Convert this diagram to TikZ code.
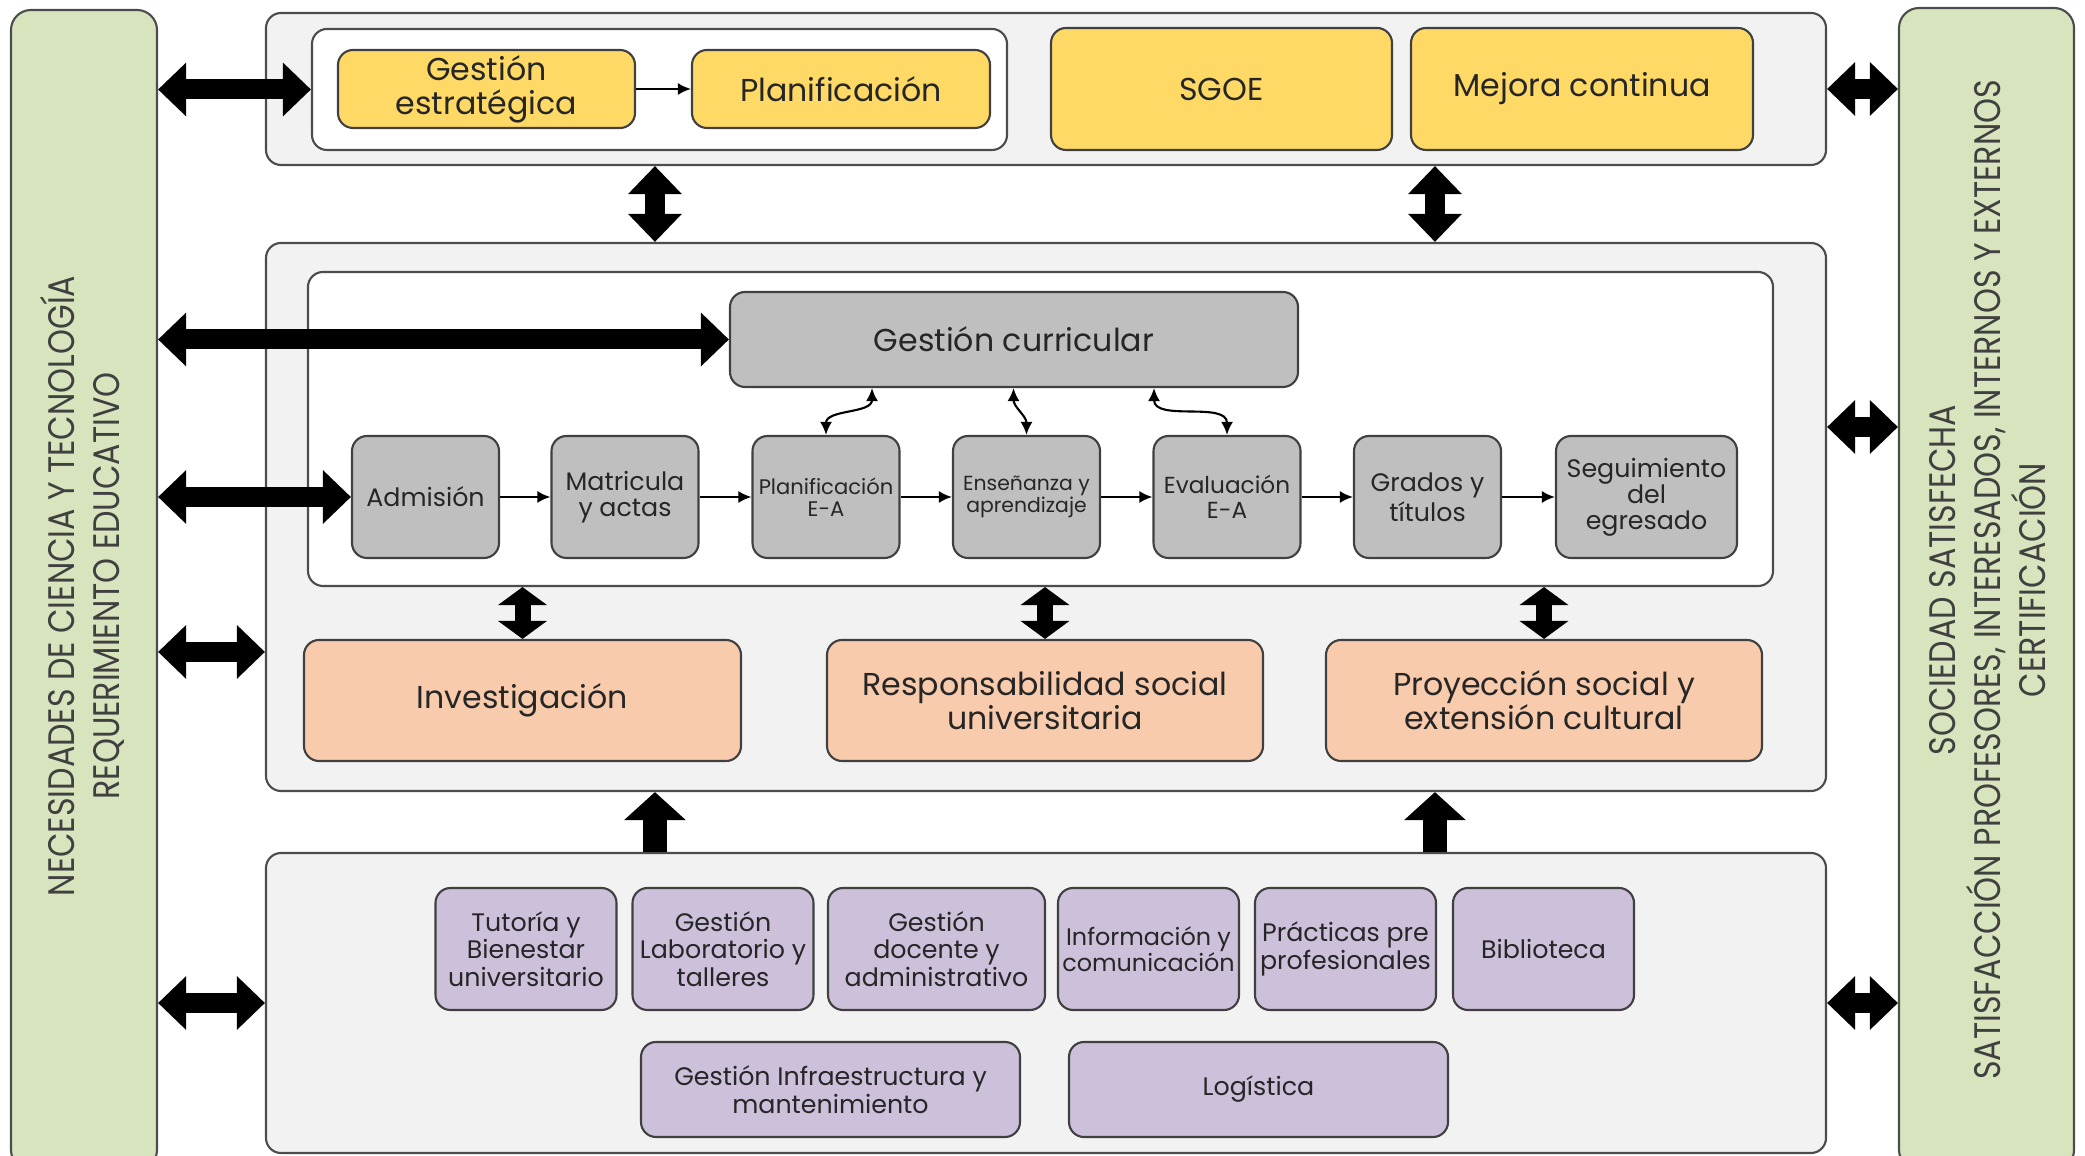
\documentclass[tikz,border=0pt]{standalone}
\usepackage{fontspec}
\setmainfont{Poppins}
\newfontfamily\sidefont[FakeStretch=0.86]{Poppins}
\usetikzlibrary{arrows.meta,positioning,calc}
\definecolor{panelgreen}{RGB}{215,228,189}
\definecolor{boxgray}{RGB}{242,242,242}
\definecolor{gold}{RGB}{255,217,102}
\definecolor{procgray}{RGB}{191,191,191}
\definecolor{peach}{RGB}{248,203,173}
\definecolor{lilac}{RGB}{204,192,218}
\tikzset{
  >=Stealth,
  panel/.style={rectangle,draw=black!70,fill=panelgreen,rounded corners=2mm,line width=0.6pt},
  outer/.style={rectangle,draw=black!70,fill=boxgray,rounded corners=1.5mm,line width=0.6pt},
  inner/.style={rectangle,draw=black!70,fill=white,rounded corners=1.5mm,line width=0.6pt},
  blk/.style={rectangle,draw=black!75,rounded corners=1.5mm,line width=0.6pt,align=center,inner sep=1pt,text=black!85},
  ybox/.style={blk,fill=gold,font=\fontsize{9}{9.6}\selectfont},
  gbox/.style={blk,fill=procgray,font=\fontsize{7.2}{7.4}\selectfont},
  obox/.style={blk,fill=peach,font=\fontsize{9}{9.6}\selectfont},
  pbox/.style={blk,fill=lilac,font=\fontsize{7.2}{7.8}\selectfont},
  side/.style={rotate=90,align=center,text=black!75,font=\sidefont\fontsize{10.5}{12.8}\selectfont},
  fat/.style={line width=2mm,{Triangle[width=5.2mm,length=2.8mm]}-{Triangle[width=5.2mm,length=2.8mm]}},
  sfat/.style={line width=1.6mm,{Triangle[width=4.8mm,length=1.8mm]}-{Triangle[width=4.8mm,length=1.8mm]}},
  uparr/.style={line width=2.4mm,-{Triangle[width=6mm,length=2.8mm]}},
  lnk/.style={line width=0.6pt,-{Latex[length=1.3mm,width=1.2mm]}},
  blnk/.style={line width=0.6pt,{Latex[length=1.3mm,width=1.2mm]}-{Latex[length=1.3mm,width=1.2mm]}}
}
\begin{document}
\begin{tikzpicture}
    \useasboundingbox (0,0) rectangle (20.85,-11.56);
    \clip (0,0) rectangle (20.85,-11.56);

    % Side panels
    \node[panel, minimum width=1.46cm, minimum height=11.6cm] (lp) at (0.84,-5.9) {};
    \node[panel, minimum width=1.75cm, minimum height=11.62cm] (rp) at (19.865,-5.89) {};
    \node[side] (lptxt) at (0.82,-5.86) {NECESIDADES DE CIENCIA Y TECNOLOGÍA\\REQUERIMIENTO EDUCATIVO};
    \node[side] (rptxt) at (19.88,-5.8) {SOCIEDAD SATISFECHA\\SATISFACCIÓN PROFESORES, INTERESADOS, INTERNOS Y EXTERNOS\\CERTIFICACIÓN};

    % Frames
    \node[outer, minimum width=15.6cm, minimum height=1.52cm] (topbox) at (10.46,-0.89) {};
    \node[inner, minimum width=6.95cm, minimum height=1.21cm] (topin) at (6.595,-0.895) {};
    \node[outer, minimum width=15.6cm, minimum height=5.48cm] (midbox) at (10.46,-5.17) {};
    \node[inner, minimum width=14.65cm, minimum height=3.14cm] (midin) at (10.405,-4.29) {};
    \node[outer, minimum width=15.6cm, minimum height=3.0cm] (botbox) at (10.46,-10.03) {};

    % Strategic level
    \node[ybox, minimum width=2.97cm, minimum height=0.78cm] (gest) at (4.865,-0.89) {Gestión\\estratégica};
    \node[ybox, minimum width=2.98cm, minimum height=0.78cm] (plan) at (8.41,-0.89) {Planificación};
    \node[ybox, minimum width=3.41cm, minimum height=1.22cm] (sgoe) at (12.215,-0.89) {SGOE};
    \node[ybox, minimum width=3.42cm, minimum height=1.22cm] (mej) at (15.82,-0.89) {Mejora continua};
    \draw[lnk] (gest) -- (plan);

    % Core processes
    \node[gbox, font=\fontsize{9}{9.6}\selectfont, minimum width=5.68cm, minimum height=0.95cm] (gc) at (10.14,-3.395) {Gestión curricular};
    \begin{scope}[every node/.append style={gbox, minimum width=1.47cm, minimum height=1.22cm}]
      \node (adm) at (4.255,-4.97) {Admisión};
      \node (mat) at (6.25,-4.97) {Matricula\\y actas};
      \node[font=\fontsize{6}{6.4}\selectfont] (pea) at (8.26,-4.97) {Planificación\\E-A};
      \node[font=\fontsize{5.8}{6.4}\selectfont] (ens) at (10.265,-4.97) {Enseñanza y\\aprendizaje};
      \node[font=\fontsize{6.6}{7}\selectfont] (eva) at (12.27,-4.97) {Evaluación\\E-A};
      \node (gra) at (14.275,-4.97) {Grados y\\títulos};
      \node[minimum width=1.81cm] (seg) at (16.465,-4.97) {Seguimiento\\del\\egresado};
    \end{scope}
    \foreach \a/\b in {adm/mat,mat/pea,pea/ens,ens/eva,eva/gra,gra/seg}
      \draw[lnk] (\a) -- (\b);
    \draw[blnk] ([xshift=0.46cm]pea.north |- gc.south) to[out=-90,in=90] (pea.north);
    \draw[blnk] ([xshift=-0.13cm]ens.north |- gc.south) to[out=-90,in=90] (ens.north);
    \draw[blnk] ([xshift=-0.73cm]eva.north |- gc.south) to[out=-90,in=90] (eva.north);

    % Substantive functions
    \node[obox, minimum width=4.37cm, minimum height=1.21cm] (inv) at (5.225,-7.005) {Investigación};
    \node[obox, minimum width=4.36cm, minimum height=1.21cm] (resp) at (10.45,-7.005) {Responsabilidad social\\universitaria};
    \node[obox, minimum width=4.36cm, minimum height=1.21cm] (proy) at (15.44,-7.005) {Proyección social y\\extensión cultural};
    \foreach \n in {inv,resp,proy}
      \draw[sfat] (\n.north |- midin.south) -- (\n.north);

    % Support processes
    \begin{scope}[every node/.append style={pbox, minimum width=1.81cm, minimum height=1.22cm}]
      \node (tut) at (5.26,-9.49) {Tutoría y\\Bienestar\\universitario};
      \node (lab) at (7.23,-9.49) {Gestión\\Laboratorio y\\talleres};
      \node[minimum width=2.17cm] (doc) at (9.365,-9.49) {Gestión\\docente y\\administrativo};
      \node[font=\fontsize{6.8}{7.4}\selectfont] (info) at (11.485,-9.49) {Información y\\comunicación};
      \node (prac) at (13.455,-9.49) {Prácticas pre\\profesionales};
      \node (bib) at (15.435,-9.49) {Biblioteca};
      \node[minimum width=3.79cm, minimum height=0.95cm] (infra) at (8.305,-10.895) {Gestión Infraestructura y\\mantenimiento};
      \node[minimum width=3.79cm, minimum height=0.95cm] (log) at (12.585,-10.895) {Logística};
    \end{scope}

    % Block arrows
    \draw[fat] (lp.east |- topin.west) -- (topin.west);
    \draw[fat] (topbox.east) -- (rp.west |- topbox.east);
    \draw[fat] ([xshift=3.9cm]topbox.south west) -- ([xshift=3.9cm]midbox.north west);
    \draw[fat] ([xshift=11.7cm]topbox.south west) -- ([xshift=11.7cm]midbox.north west);
    \draw[fat] (lp.east |- gc.west) -- (gc.west);
    \draw[fat] (lp.east |- adm.west) -- (adm.west);
    \draw[fat] ([yshift=-0.13cm]lp.east |- inv.north) -- ([yshift=-0.13cm]midbox.west |- inv.north);
    \draw[fat] ([yshift=0.9cm]midbox.east) -- ([yshift=0.9cm]rp.west |- midbox.east);
    \draw[uparr] ([xshift=3.9cm]botbox.north west) -- ([xshift=3.9cm]midbox.south west);
    \draw[uparr] ([xshift=11.7cm]botbox.north west) -- ([xshift=11.7cm]midbox.south west);
    \draw[fat] (lp.east |- botbox.west) -- (botbox.west);
    \draw[fat] (botbox.east) -- (rp.west |- botbox.east);
\end{tikzpicture}
\end{document}
